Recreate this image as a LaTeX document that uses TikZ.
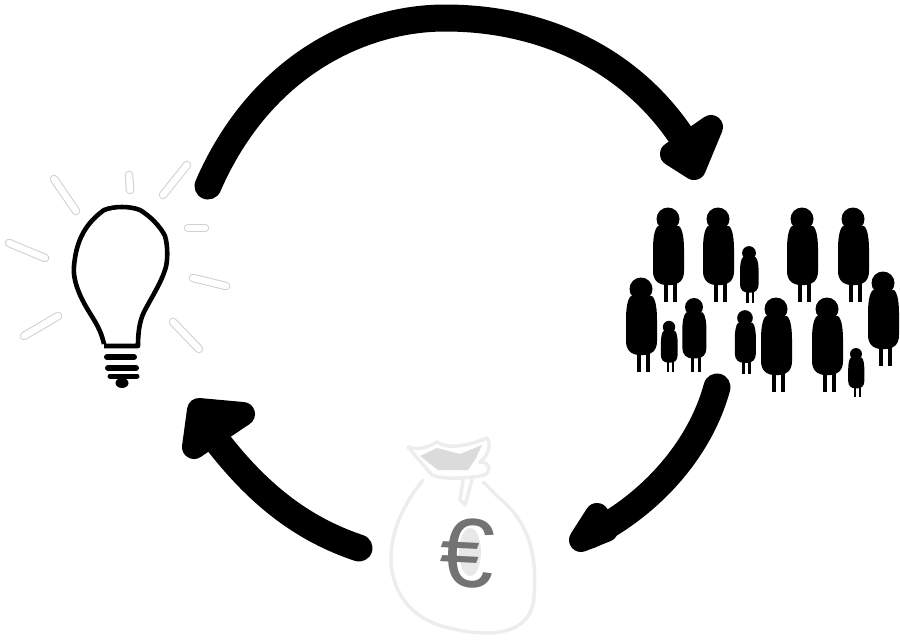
\documentclass[tikz,border=0pt]{standalone}
\usepackage{fontspec}
\setmainfont{Liberation Sans}
\tikzset{
  flow/.style={line width=27pt,line cap=round,black},
  headfill/.style={fill=black,draw=black,line width=24pt,line join=round},
  bulb/.style={draw=black,line width=4.6pt,line join=round,fill=white},
  thread/.style={draw=black,line cap=round},
  bag/.style={draw=black!7,line width=3.5pt,line join=round,line cap=round},
}
\newcommand{\rayline}[4]{%
  \draw[line cap=round,black!18,line width=8.5pt] (#1,#2) -- (#3,#4);
  \draw[line cap=round,white,line width=6.4pt] (#1,#2) -- (#3,#4);}
\newcommand{\personfig}[3]{%
  \begin{scope}[shift={(#1,#2)},scale=#3]
    \fill[black] (0,0) circle (11.5);
    \fill[black] (-10,7) -- (11,7) .. controls (15,10) and (16,22) .. (16,30) -- (16,52)
      .. controls (16,61) and (11,66) .. (3,66) -- (-1,66)
      .. controls (-10,66) and (-15,61) .. (-15,52) -- (-15,30)
      .. controls (-15,22) and (-14,10) .. (-10,7) -- cycle;
    \fill[black] (-4.2,60) rectangle (-0.2,83);
    \fill[black] (4.8,60) rectangle (8.8,83);
  \end{scope}}
\begin{document}
\begin{tikzpicture}[x=1pt,y=-1pt]
\useasboundingbox (0,0) rectangle (900,641);
% arrows
\coordinate (a1s) at (208,186);
\coordinate (a1e) at (690,150);
\coordinate (a2s) at (717,387);
\coordinate (a2e) at (590,535);
\coordinate (a3s) at (359,548);
\coordinate (a3e) at (205,425);
\draw[flow] (a1s) .. controls (262,62) and (365,18) .. (445,18) .. controls (550,18) and (640,65) .. (a1e);
\draw[headfill] (711,127) -- (672,154) -- (694,168) -- cycle;
\draw[flow] (a2s) .. controls (700,450) and (650,505) .. (a2e);
\draw[headfill] (597,515) -- (581,540) -- (606,530) -- cycle;
\draw[flow] (a3s) .. controls (290,525) and (245,480) .. (a3e);
\draw[headfill] (199,410) -- (243,414) -- (194,447) -- cycle;
% bulb
\draw[bulb] (104,344) .. controls (100,326) and (92,318) .. (84,303) .. controls (76,288) and (73,276) .. (74,266)
  .. controls (76,245) and (82,226) .. (104,210) .. controls (114,206) and (130,206) .. (140,210)
  .. controls (150,216) and (160,226) .. (165,236) .. controls (168,246) and (168,262) .. (165,270)
  .. controls (160,285) and (150,300) .. (144,312) .. controls (139,322) and (138,335) .. (138,346)
  -- (104,346);
\draw[thread,line width=6pt] (107,357) -- (134,357);
\draw[thread,line width=6pt] (108,368) -- (136,368);
\draw[thread,line width=5pt] (110,376) -- (137,376);
\fill[black] (122,383) ellipse (6.5 and 5);
% rays
\rayline{54}{179}{76}{211}
\rayline{129}{175}{130}{190}
\rayline{187}{165}{163}{195}
\rayline{188}{228}{205}{228}
\rayline{193}{278}{226}{286}
\rayline{173}{322}{199}{349}
\rayline{24}{336}{58}{316}
\rayline{9}{243}{45}{258}
% people
\personfig{668}{219}{1}
\personfig{718}{219}{1}
\personfig{802}{219}{1}
\personfig{853}{219}{1}
\personfig{641}{289}{1}
\personfig{776}{309}{1}
\personfig{827}{309}{1}
\personfig{883}{283}{1}
\personfig{694}{307}{.78}
\personfig{745}{318}{.68}
\personfig{749}{253}{.6}
\personfig{669}{327}{.54}
\personfig{856}{354}{.52}
% money bag
\draw[bag] (423,480) .. controls (403,505) and (392,530) .. (391,555) .. controls (390,590) and (410,620) .. (450,628)
  .. controls (480,636) and (533,640) .. (534,595) .. controls (538,550) and (525,522) .. (505,503)
  .. controls (495,495) and (490,488) .. (483,482);
\fill[black!14] (420,456) -- (437,448) -- (460,454) -- (482,445) -- (476,458) -- (468,470) -- (438,470) -- cycle;
\draw[bag] (408,447) .. controls (420,451) and (430,446) .. (437,442) .. controls (447,449) and (465,447) .. (487,438)
  .. controls (492,445) and (488,456) .. (480,462) .. controls (492,462) and (492,475) .. (480,476)
  .. controls (465,478) and (445,480) .. (432,475) -- cycle;
\draw[bag] (463,480) -- (460,500) -- (465,505) -- (472,480);
\fill[black!9] (470,552) ellipse (11 and 24);
\node[text=black!55,font=\fontsize{98}{98}\selectfont,inner sep=0pt,rotate=-3] (euro) at (467,553) {€};
\end{tikzpicture}
\end{document}
